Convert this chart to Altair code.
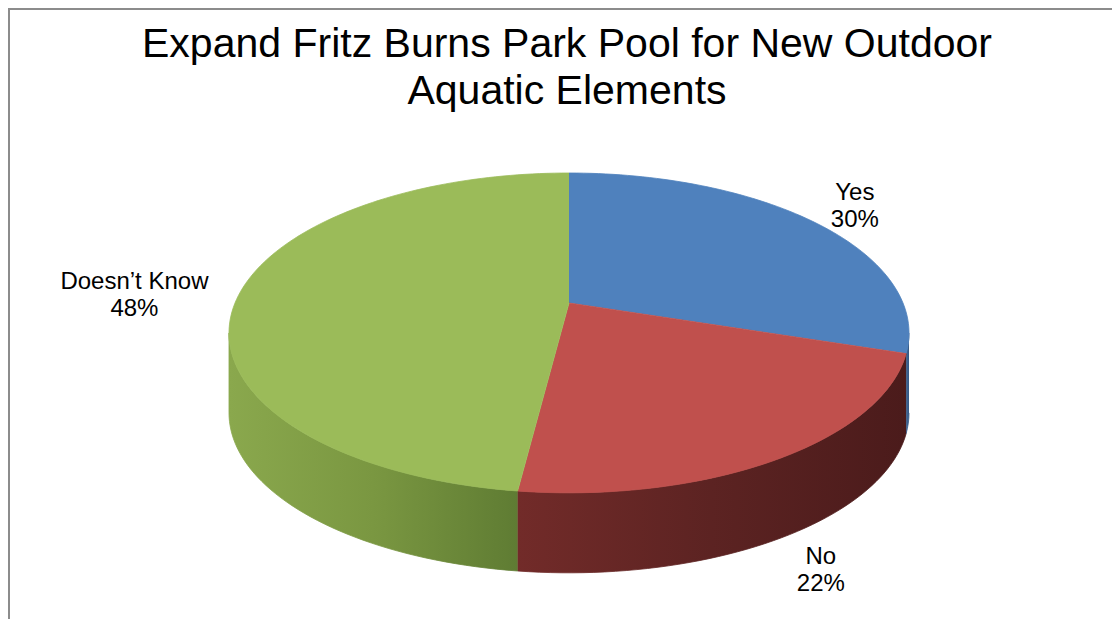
import math
import altair as alt
import pandas as pd

# ---------------- data ----------------
title_lines = ["Expand Fritz Burns Park Pool for New Outdoor", "Aquatic Elements"]
categories = ["Yes", "No", "Doesn\u2019t Know"]
values = [30, 22, 48]
top_colors = ["#4F81BD", "#C0504D", "#9BBB59"]

# ---------------- 3-D pie geometry (styling parameters) ----------------
U = 0.187        # perspective foreshortening
TILT = 0.462     # vertical squash of the disc
DEPTH = 0.2395   # thickness of the disc
STEPS = 240      # arc resolution for a full turn
LAB_FX = 1.1
CHAR_HALF = 0.018
LAB_VY = 0.10

W, H = 1104, 611
XDOM = [-1.6796, 1.6257]
YDOM = [-0.946, 0.8832]


def proj(theta):
    c = math.cos(theta)
    s = math.sin(theta)
    d = 1 + U * c
    return s / d, TILT * c / d


def arc(a, b):
    n = max(2, int(abs(b - a) / (2 * math.pi) * STEPS) + 1)
    return [a + (b - a) * k / (n - 1) for k in range(n)]


total = float(sum(values))
starts, ends = [], []
acc = 0.0
for v in values:
    starts.append(acc / total * 2 * math.pi)
    acc += v
    ends.append(acc / total * 2 * math.pi)

sil1 = math.pi / 2 + math.asin(U)
sil2 = 3 * math.pi / 2 - math.asin(U)

# top faces
top_rows = []
for cat, a, b in zip(categories, starts, ends):
    i = 0
    top_rows.append({"cat": cat, "i": i, "x": 0.0, "y": 0.0})
    for t in arc(a, b):
        i += 1
        x, y = proj(t)
        top_rows.append({"cat": cat, "i": i, "x": x, "y": y})
top_df = pd.DataFrame(top_rows)

# side walls (visible front part only)
side_dfs = {}
for cat, a, b in zip(categories, starts, ends):
    lo, hi = max(a, sil1), min(b, sil2)
    if lo >= hi:
        continue
    rows = []
    i = 0
    for t in arc(lo, hi):
        x, y = proj(t)
        rows.append({"cat": cat, "i": i, "x": x, "y": y})
        i += 1
    for t in reversed(arc(lo, hi)):
        x, y = proj(t)
        rows.append({"cat": cat, "i": i, "x": x, "y": y - DEPTH})
        i += 1
    side_dfs[cat] = pd.DataFrame(rows)

# labels (placed just outside each slice's mid-point)
lab_rows = []
for cat, v, a, b in zip(categories, values, starts, ends):
    m = (a + b) / 2
    sx, sy = proj(m)
    pct = f"{v}%"
    maxlen = max(len(cat), len(pct))
    lx = LAB_FX * sx + math.copysign(CHAR_HALF * maxlen, sx)
    ly = sy + math.copysign(LAB_VY * abs(math.cos(m)), math.cos(m))
    if math.cos(m) < 0:
        ly -= DEPTH
    lab_rows.append({"cat": cat, "text": f"{cat}\n{pct}", "x": lx, "y": ly})
lab_df = pd.DataFrame(lab_rows)

# ---------------- chart ----------------
X = alt.X("x:Q", scale=alt.Scale(domain=XDOM, nice=False, zero=False), axis=None)
Y = alt.Y("y:Q", scale=alt.Scale(domain=YDOM, nice=False, zero=False), axis=None)

side_grad = {
    "Yes": ["#3E6798", "#355884"],
    "No": ["#722B29", "#5C2322", "#4B1B1B"],
    "Doesn\u2019t Know": ["#8AA84D", "#7A9741", "#5F7C33"],
}

layers = []
for cat in categories:
    if cat not in side_dfs:
        continue
    cols = side_grad[cat]
    stops = [alt.GradientStop(color=c, offset=k / (len(cols) - 1)) for k, c in enumerate(cols)]
    grad = alt.LinearGradient(gradient="linear", stops=stops, x1=0, x2=1, y1=0, y2=0)
    layers.append(
        alt.Chart(side_dfs[cat])
        .mark_line(fill=grad, stroke=grad, strokeWidth=0.8)
        .encode(x=X, y=Y, order=alt.Order("i:Q"))
    )

top_scale = alt.Scale(domain=categories, range=top_colors)
layers.append(
    alt.Chart(top_df)
    .mark_line(strokeWidth=0.8)
    .encode(
        x=X,
        y=Y,
        order=alt.Order("i:Q"),
        fill=alt.Fill("cat:N", scale=top_scale, legend=None),
        stroke=alt.Stroke("cat:N", scale=top_scale, legend=None),
    )
)

layers.append(
    alt.Chart(lab_df)
    .mark_text(font="Liberation Sans", fontSize=24, color="#000000", lineBreak="\n",
               lineHeight=27, align="center", baseline="middle", dy=-9)
    .encode(x=X, y=Y, text="text:N")
)

# title as real text above the pie
title_df = pd.DataFrame({"t": ["\n".join(title_lines)]})
layers.append(
    alt.Chart(title_df)
    .mark_text(font="Liberation Sans", fontSize=41, color="#000000", lineBreak="\n",
               lineHeight=47, align="center", baseline="alphabetic")
    .encode(text="t:N", x=alt.value(559), y=alt.value(49))
)

frame = pd.DataFrame({"k": [0]})
layers.append(
    alt.Chart(frame).mark_rule(color="#8C8C8C", strokeWidth=2)
    .encode(x=alt.value(1), y=alt.value(0), y2=alt.value(H))
)
layers.append(
    alt.Chart(frame).mark_rule(color="#8C8C8C", strokeWidth=2)
    .encode(x=alt.value(0), x2=alt.value(W), y=alt.value(1))
)

chart = (
    alt.layer(*layers)
    .properties(
        width=W,
        height=H,
        padding=0,
        autosize=alt.AutoSizeParams(type="none"),
    )
    .configure_view(strokeWidth=0, strokeOpacity=0)
    .configure(background="#FFFFFF")
)

chart.save("out.html", embed_options={"renderer": "svg", "actions": False})
